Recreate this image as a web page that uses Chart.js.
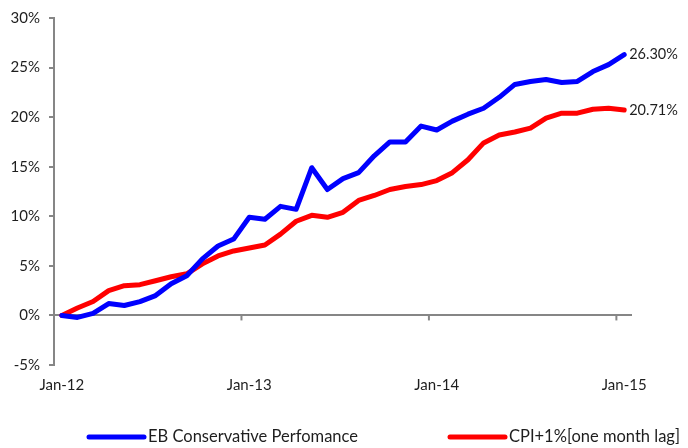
<!DOCTYPE html>
<html>
<head>
<meta charset="utf-8">
<title>EB Conservative vs CPI+1%</title>
<script src="https://cdn.jsdelivr.net/npm/chart.js@4.4.1/dist/chart.umd.min.js"></script>
<style>
    html, body { margin: 0; padding: 0; background: #fff; }
    #wrap { width: 688px; height: 448px; }
</style>
</head>
<body>
<div id="wrap"><canvas id="perfChart" width="688" height="448"></canvas></div>
<script>
// monthly categories, Jan-12 .. Jan-15
const months = ['Jan', 'Feb', 'Mar', 'Apr', 'May', 'Jun', 'Jul', 'Aug', 'Sep', 'Oct', 'Nov', 'Dec'];
const years = ['12', '13', '14'];
const categories = [];
years.forEach(y => months.forEach(m => categories.push(m + '-' + y)));
categories.push('Jan-15');

// cumulative return, %
const ebConservative = [
    0, -0.2, 0.2, 1.2, 1.0, 1.4, 2.0, 3.2, 4.0, 5.7, 7.0, 7.7,
    9.9, 9.7, 11.0, 10.7, 14.9, 12.7, 13.8, 14.4, 16.1, 17.5, 17.5, 19.1,
    18.7, 19.6, 20.3, 20.9, 22.0, 23.3, 23.6, 23.8, 23.5, 23.6, 24.6, 25.3,
    26.30
];
const cpiPlusOne = [
    0, 0.75, 1.4, 2.5, 3.0, 3.1, 3.5, 3.9, 4.2, 5.2, 6.0, 6.5,
    6.8, 7.1, 8.2, 9.5, 10.1, 9.9, 10.4, 11.6, 12.1, 12.7, 13.0, 13.2,
    13.6, 14.4, 15.7, 17.4, 18.2, 18.5, 18.9, 19.9, 20.4, 20.4, 20.8, 20.9,
    20.71
];
const seriesNames = ['EB Conservative Perfomance', 'CPI+1%[one month lag]'];
const seriesColors = ['#0000ff', '#ff0000'];
const yTicks = { min: -5, max: 30, step: 5 };

const FONT = 'Lato, "Open Sans", sans-serif';
const TEXT = '#1e1e1e';
const AXIS = '#868686';

// little tick marks hanging below the 0% line, between Dec and Jan
const zeroTicks = {
    id: 'zeroTicks',
    beforeDatasetsDraw(chart) {
        const x = chart.scales.x, y = chart.scales.y;
        const y0 = y.getPixelForValue(0);
        const c = chart.ctx;
        c.save();
        c.strokeStyle = AXIS;
        c.lineWidth = 2;
        categories.forEach((lab, i) => {
            if (i > 0 && i % 12 === 0) {
                const px = (x.getPixelForValue(i - 1) + x.getPixelForValue(i)) / 2;
                c.beginPath();
                c.moveTo(px, y0);
                c.lineTo(px, y0 + 5);
                c.stroke();
            }
        });
        c.restore();
    }
};

// value label at the last point of each line
const endLabels = {
    id: 'endLabels',
    afterDatasetsDraw(chart) {
        const c = chart.ctx;
        c.save();
        c.font = '14.5px ' + FONT;
        c.fillStyle = TEXT;
        c.textAlign = 'left';
        c.textBaseline = 'middle';
        chart.data.datasets.forEach((ds, i) => {
            const pts = chart.getDatasetMeta(i).data;
            const last = pts[pts.length - 1];
            const v = ds.data[ds.data.length - 1];
            c.fillText(v.toFixed(2) + '%', last.x + 5, last.y);
        });
        c.restore();
    }
};

// legend at the bottom, two entries spread out like the original
const spreadLegend = {
    id: 'spreadLegend',
    afterDraw(chart) {
        const c = chart.ctx;
        const starts = [89, 450];
        const ly = 437;
        c.save();
        c.font = '16.5px ' + FONT;
        c.textBaseline = 'middle';
        c.textAlign = 'left';
        c.lineCap = 'round';
        chart.data.datasets.forEach((ds, i) => {
            c.strokeStyle = ds.borderColor;
            c.lineWidth = 5;
            c.beginPath();
            c.moveTo(starts[i], ly);
            c.lineTo(starts[i] + 55, ly);
            c.stroke();
            c.fillStyle = TEXT;
            c.fillText(ds.label, starts[i] + 59, ly);
        });
        c.restore();
    }
};

const ctx = document.getElementById('perfChart');
new Chart(ctx, {
    type: 'line',
    data: {
        labels: categories,
        datasets: [
            {
                label: seriesNames[0],
                data: ebConservative,
                borderColor: seriesColors[0],
                backgroundColor: seriesColors[0],
                borderWidth: 5,
                pointRadius: 0,
                tension: 0,
                borderJoinStyle: 'round',
                borderCapStyle: 'round',
                clip: false
            },
            {
                label: seriesNames[1],
                data: cpiPlusOne,
                borderColor: seriesColors[1],
                backgroundColor: seriesColors[1],
                borderWidth: 5,
                pointRadius: 0,
                tension: 0,
                borderJoinStyle: 'round',
                borderCapStyle: 'round',
                clip: false
            }
        ]
    },
    options: {
        responsive: false,
        animation: false,
        devicePixelRatio: 1,
        layout: { padding: { top: 18, right: 56, bottom: 48, left: 0 } },
        plugins: {
            legend: { display: false },
            tooltip: { enabled: false }
        },
        scales: {
            x: {
                offset: true,
                grid: { display: false, drawTicks: false },
                border: { display: false },
                ticks: {
                    autoSkip: false,
                    maxRotation: 0,
                    padding: 11,
                    color: TEXT,
                    font: { family: FONT, size: 15 },
                    callback: function(val, i) {
                        return i % 12 === 0 ? categories[i] : '';
                    }
                },
                afterFit(scale) { scale.height = 35; }
            },
            y: {
                min: yTicks.min,
                max: yTicks.max,
                border: { display: true, color: AXIS, width: 2 },
                grid: {
                    drawOnChartArea: true,
                    color: c => (c.tick && c.tick.value === 0) ? AXIS : 'rgba(0,0,0,0)',
                    tickColor: AXIS,
                    lineWidth: 2,
                    tickWidth: 2,
                    tickLength: 5
                },
                ticks: {
                    stepSize: yTicks.step,
                    padding: 9,
                    color: TEXT,
                    font: { family: FONT, size: 15 },
                    callback: v => v + '%'
                },
                afterFit(scale) { scale.width = 54; }
            }
        }
    },
    plugins: [zeroTicks, endLabels, spreadLegend]
});
</script>
</body>
</html>
